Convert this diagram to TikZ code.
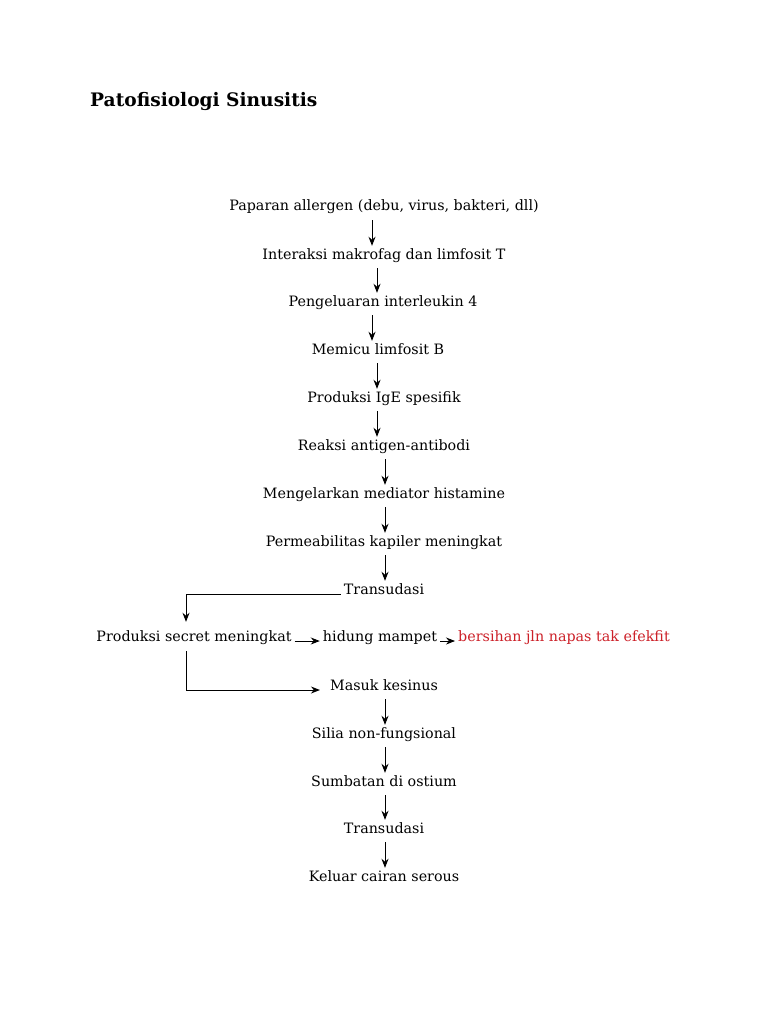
\documentclass[tikz,border=0pt]{standalone}
\usepackage{fontspec}
\setmainfont{DejaVu Serif}
\usetikzlibrary{arrows.meta}

\begin{document}
\begin{tikzpicture}[x=1pt,y=1pt,yscale=-1,xscale=1,
  stepnode/.style={inner xsep=3pt,inner ysep=2pt,text height=11pt,text depth=3pt,font=\fontsize{14.3}{17}\selectfont},
  redtext/.style={color={rgb, 255:red, 204; green, 32; blue, 40 }},
  arr/.style={-{Stealth[length=9pt,width=7pt]},line width=0.9pt}]
\useasboundingbox (0,0) rectangle (768,1024);

% Text Node
\draw (90,102) node [anchor=west,inner sep=0pt,font=\fontsize{18.6}{22}\bfseries]  {Patofisiologi Sinusitis};

% Text Node
\node [stepnode] (p1) at (384,207) {Paparan allergen (debu, virus, bakteri, dll)};
% Text Node
\node [stepnode] (p2) at (384,255) {Interaksi makrofag dan limfosit T};
% Text Node
\node [stepnode] (p3) at (383,302) {Pengeluaran interleukin 4};
% Text Node
\node [stepnode] (p4) at (378,350) {Memicu limfosit B};
% Text Node
\node [stepnode] (p5) at (384,398) {Produksi IgE spesifik};
% Text Node
\node [stepnode] (p6) at (384,446) {Reaksi antigen-antibodi};
% Text Node
\node [stepnode] (p7) at (384,494) {Mengelarkan mediator histamine};
% Text Node
\node [stepnode] (p8) at (384,542) {Permeabilitas kapiler meningkat};
% Text Node
\node [stepnode] (t1) at (384,590) {Transudasi};
% Text Node
\node [stepnode] (sec) at (194,637) {Produksi secret meningkat};
% Text Node
\node [stepnode] (hid) at (380,637) {hidung mampet};
% Text Node
\node [stepnode,redtext] (ber) at (564,637) {bersihan jln napas tak efekfit};
% Text Node
\node [stepnode] (m1) at (384,686) {Masuk kesinus};
% Text Node
\node [stepnode] (m2) at (384,734) {Silia non-fungsional};
% Text Node
\node [stepnode] (m3) at (384,782) {Sumbatan di ostium};
% Text Node
\node [stepnode] (t2) at (384,829) {Transudasi};
% Text Node
\node [stepnode] (m4) at (384,877) {Keluar cairan serous};

%Straight Lines
\foreach \a/\b/\dx in {p1/p2/-12,p2/p3/-7,p3/p4/-11,p4/p5/-1,p5/p6/-7,p6/p7/1,p7/p8/1,p8/t1/1,m1/m2/1,m2/m3/1,m3/t2/1,t2/m4/1}
  \draw [arr,shorten <=4pt] ([xshift=\dx pt]\a.south) -- ([xshift=\dx pt]\a.south |- \b.north) ;

%Straight Lines
\draw [arr,shorten >=6pt] ([yshift=4pt]t1.west) -| ([xshift=-8pt]sec.north) ;
\draw [arr,shorten <=5pt] ([xshift=-8pt]sec.south) |- ([xshift=-7pt,yshift=4pt]m1.west) ;
\draw [arr] ([yshift=4pt]sec.east) -- ([yshift=4pt]hid.west) ;
\draw [arr] ([yshift=4pt]hid.east) -- ([yshift=4pt]ber.west) ;

\end{tikzpicture}
\end{document}
